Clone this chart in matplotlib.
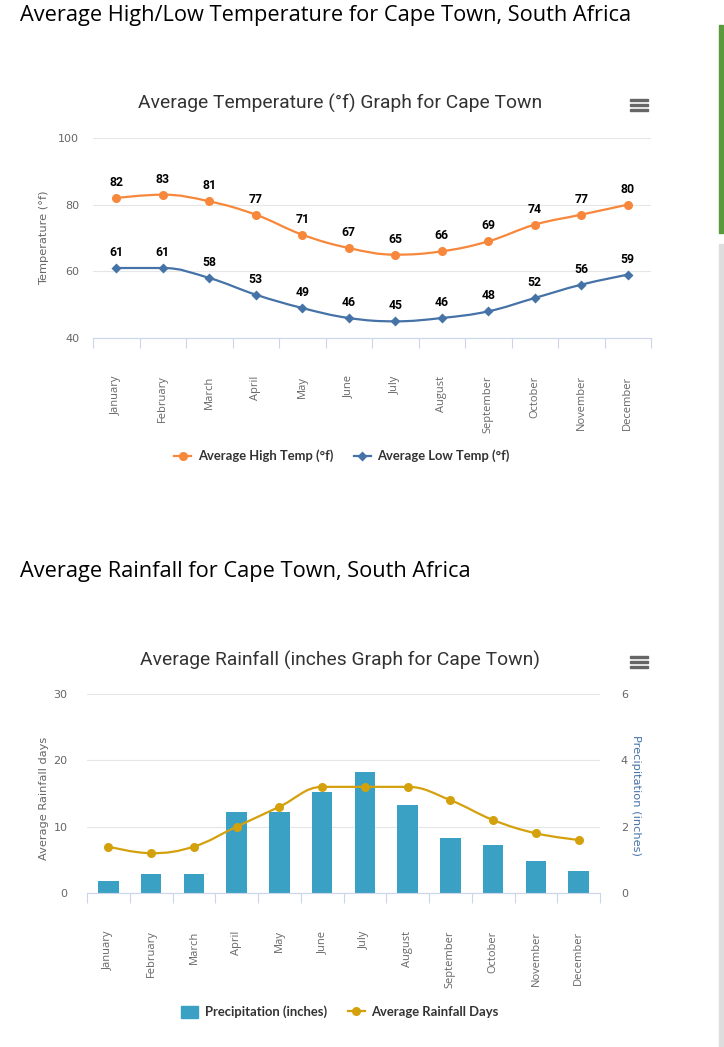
import numpy as np
import matplotlib.pyplot as plt
from matplotlib.path import Path
from matplotlib.patches import PathPatch, Rectangle
from matplotlib.lines import Line2D

# data
months = ['January', 'February', 'March', 'April', 'May', 'June', 'July',
          'August', 'September', 'October', 'November', 'December']
high_temp = [82, 83, 81, 77, 71, 67, 65, 66, 69, 74, 77, 80]
low_temp = [61, 61, 58, 53, 49, 46, 45, 46, 48, 52, 56, 59]
precip_in = [0.37, 0.58, 0.58, 2.45, 2.45, 3.06, 3.66, 2.66, 1.67, 1.46, 0.97, 0.67]
rain_days = [7, 6, 7, 10, 13, 16, 16, 16, 14, 11, 9, 8]

W, H = 724, 1047
ORANGE = '#f7873a'
BLUE = '#4572a7'
GOLD = '#d4a00b'
BAR = '#3aa1c4'
GRID = '#e6e6e6'
AXIS = '#ccd6eb'
LABEL = '#666666'
TITLE = '#333333'
NARROW = ['Roboto', 'DejaVu Sans']

fig = plt.figure(figsize=(W / 100, H / 100), dpi=100)


def px_axes(x0, y0, x1, y1):
    return fig.add_axes([x0 / W, 1 - y1 / H, (x1 - x0) / W, (y1 - y0) / H])


def spline_path(xs, ys, smoothing=1.5):
    # same control points as a highcharts spline
    n = len(xs)
    lc = [None] * n
    rc = [None] * n
    d = smoothing + 1
    for i in range(1, n - 1):
        px, py = xs[i], ys[i]
        lx, ly = xs[i - 1], ys[i - 1]
        nx, ny = xs[i + 1], ys[i + 1]
        lcx = (smoothing * px + lx) / d
        lcy = (smoothing * py + ly) / d
        rcx = (smoothing * px + nx) / d
        rcy = (smoothing * py + ny) / d
        if rcx != lcx:
            corr = (rcy - lcy) * (rcx - px) / (rcx - lcx) + py - rcy
            lcy += corr
            rcy += corr
        if lcy > ly and lcy > py:
            lcy = max(ly, py)
            rcy = 2 * py - lcy
        elif lcy < ly and lcy < py:
            lcy = min(ly, py)
            rcy = 2 * py - lcy
        if rcy > ny and rcy > py:
            rcy = max(ny, py)
            lcy = 2 * py - rcy
        elif rcy < ny and rcy < py:
            rcy = min(ny, py)
            lcy = 2 * py - rcy
        lc[i] = (lcx, lcy)
        rc[i] = (rcx, rcy)
    verts = [(xs[0], ys[0])]
    codes = [Path.MOVETO]
    for i in range(1, n):
        verts += [rc[i - 1] or (xs[i - 1], ys[i - 1]), lc[i] or (xs[i], ys[i]), (xs[i], ys[i])]
        codes += [Path.CURVE4] * 3
    return Path(verts, codes)


def style_xaxis(ax):
    for s in ['top', 'left', 'right']:
        ax.spines[s].set_visible(False)
    ax.spines['bottom'].set_color(AXIS)
    ax.spines['bottom'].set_linewidth(0.8)
    ax.set_xlim(-0.5, 11.5)
    ax.set_xticks(range(12), months, rotation=90, fontsize=8, color=LABEL,
                  family='Open Sans')
    ax.set_xticks(np.arange(-0.5, 12, 1), minor=True)
    ax.tick_params(axis='x', which='major', length=0, pad=27)
    ax.tick_params(axis='x', which='minor', length=7.2, width=0.8, color=AXIS)
    ax.grid(axis='y', color=GRID, linewidth=0.8)
    ax.set_axisbelow(True)


def menu_icon(x, y):
    for k in range(3):
        fig.patches.append(Rectangle(((x) / W, 1 - (y + 5 * k + 1.3) / H), 18 / W, 2.6 / H,
                                     transform=fig.transFigure, color='#666666'))


x = np.arange(12)

# headings
fig.text(20 / W, 1 - 16 / H, 'Average High/Low Temperature for Cape Town, South Africa',
         fontsize=15.7, family='Open Sans', color='black', va='center', ha='left')
fig.text(20 / W, 1 - 572 / H, 'Average Rainfall for Cape Town, South Africa',
         fontsize=15.7, family='Open Sans', color='black', va='center', ha='left')

# side bars of the page
fig.patches.append(Rectangle((719 / W, 1 - 233 / H), 4 / W, 208 / H,
                             transform=fig.transFigure, color='#5a9a3c'))
fig.patches.append(Rectangle((719 / W, 0), 4 / W, 1 - 244 / H,
                             transform=fig.transFigure, color='#dddddd'))

#%% Temperature chart
ax1 = px_axes(93, 138, 651, 338)
style_xaxis(ax1)
ax1.set_ylim(40, 100)
ax1.set_yticks([40, 60, 80, 100])
ax1.tick_params(axis='y', length=0, pad=10, labelsize=8, labelcolor=LABEL)

ax1.add_patch(PathPatch(spline_path(x, high_temp), fill=False, edgecolor=ORANGE, lw=1.6))
ax1.add_patch(PathPatch(spline_path(x, low_temp), fill=False, edgecolor=BLUE, lw=1.6))
ax1.plot(x, high_temp, 'o', color=ORANGE, ms=6.5, mec='none')
ax1.plot(x, low_temp, 'D', color=BLUE, ms=5.5, mec='none')
for xi, h, l in zip(x, high_temp, low_temp):
    ax1.annotate(str(h), (xi, h), xytext=(0, 6.5), textcoords='offset points',
                 ha='center', va='bottom', fontsize=8.8, fontweight='bold', family=NARROW)
    ax1.annotate(str(l), (xi, l), xytext=(0, 6.5), textcoords='offset points',
                 ha='center', va='bottom', fontsize=8.8, fontweight='bold', family=NARROW)

fig.text(340 / W, 1 - 103 / H, 'Average Temperature (°f) Graph for Cape Town',
         fontsize=13.9, family=NARROW, color=TITLE, ha='center', va='center')
fig.text(44 / W, 1 - 238 / H, 'Temperature (°f)', rotation=90, fontsize=8.2,
         color=LABEL, ha='center', va='center')
menu_icon(630, 100)

legend_font = {'size': 9.4, 'weight': 'bold', 'family': ['Lato', 'DejaVu Sans']}
h1 = [Line2D([], [], color=ORANGE, marker='o', ms=6.5, mec='none', lw=1.6),
      Line2D([], [], color=BLUE, marker='D', ms=5.5, mec='none', lw=1.6)]
fig.legend(h1, ['Average High Temp (°f)', 'Average Low Temp (°f)'], loc='center',
           bbox_to_anchor=(342 / W, 1 - 456 / H), ncol=2, frameon=False,
           prop=legend_font, handlelength=1.3, handletextpad=0.5, columnspacing=1.6,
           labelcolor=TITLE)

#%% Rainfall chart
ax2 = px_axes(87, 694, 600, 893)
style_xaxis(ax2)
ax2.bar(x, precip_in, width=0.48, color=BAR, zorder=2)
ax2.set_ylim(0, 6)
ax2.set_yticks([0, 2, 4, 6])

ax3 = ax2.twinx()
for s in ['top', 'left', 'right', 'bottom']:
    ax3.spines[s].set_visible(False)
ax3.set_ylim(0, 30)
ax3.set_yticks([0, 10, 20, 30])
ax3.yaxis.tick_left()
ax3.tick_params(axis='y', length=0, pad=14, labelsize=8, labelcolor=LABEL)
ax3.add_patch(PathPatch(spline_path(x, rain_days), fill=False, edgecolor=GOLD, lw=1.6))
ax3.plot(x, rain_days, 'o', color=GOLD, ms=6.5, mec='none')

# twinx moves the first axis' ticks to the left, so put them back on the right
ax2.yaxis.tick_right()
ax2.tick_params(axis='y', length=0, pad=15, labelsize=8, labelcolor=LABEL)

fig.text(340 / W, 1 - 660 / H, 'Average Rainfall (inches Graph for Cape Town)',
         fontsize=13.9, family=NARROW, color=TITLE, ha='center', va='center')
fig.text(44 / W, 1 - 798 / H, 'Average Rainfall days', rotation=90, fontsize=8.2,
         color=LABEL, ha='center', va='center')
fig.text(636 / W, 1 - 795 / H, 'Precipitation (inches)', rotation=-90, fontsize=8.2,
         color=BLUE, ha='center', va='center')
menu_icon(630, 657)

h2 = [Rectangle((0, 0), 1, 1, color=BAR),
      Line2D([], [], color=GOLD, marker='o', ms=6.5, mec='none', lw=1.6)]
fig.legend(h2, ['Precipitation (inches)', 'Average Rainfall Days'], loc='center',
           bbox_to_anchor=(340 / W, 1 - 1012 / H), ncol=2, frameon=False,
           prop=legend_font, handlelength=1.3, handleheight=1.0, handletextpad=0.5,
           columnspacing=1.6, labelcolor=TITLE)

fig.savefig('out.png', dpi=100)
